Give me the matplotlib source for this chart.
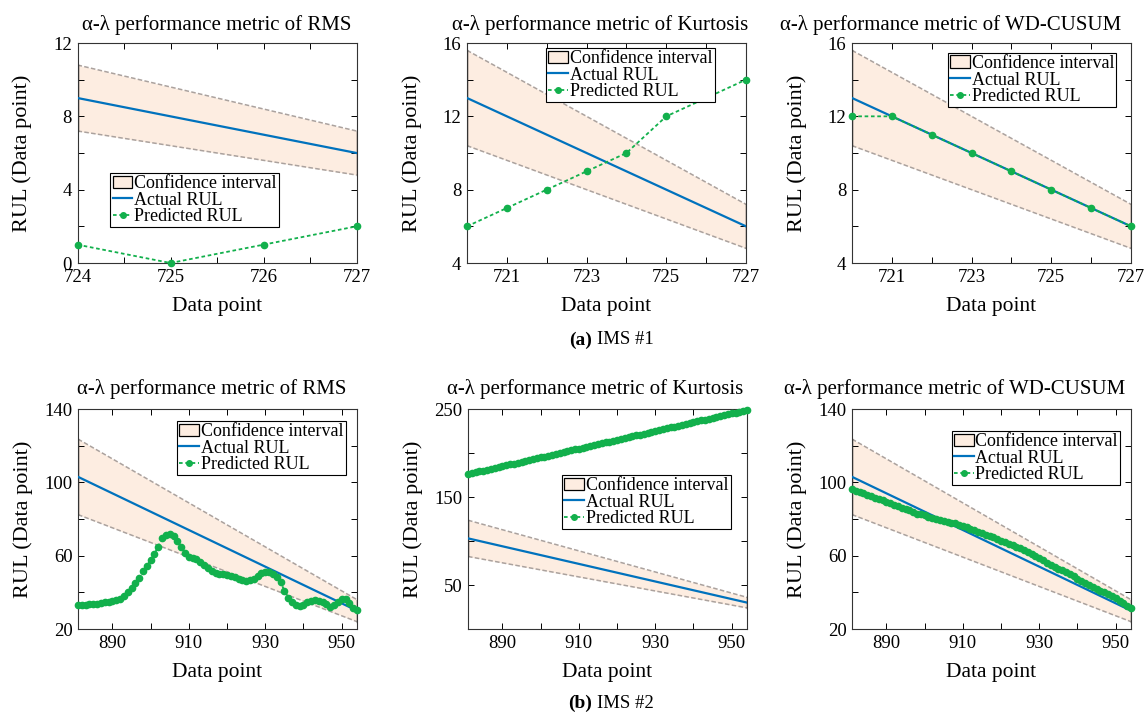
import matplotlib
matplotlib.use('Agg')
import matplotlib.pyplot as plt
from matplotlib.patches import Patch
from matplotlib.lines import Line2D

plt.rcParams['font.family'] = ['Liberation Serif', 'DejaVu Serif']

# ── Data ───────────────────────────────────────────────────────────────────
ALPHA = 0.2  # alpha-lambda confidence band (+/- 20 % of actual RUL)

# IMS #1
rms1_x = [724, 725, 726, 727]
rms1_actual = [9, 8, 7, 6]
rms1_pred = [1, 0, 1, 2]

ims1_x = [720, 721, 722, 723, 724, 725, 726, 727]
ims1_actual = [13, 12, 11, 10, 9, 8, 7, 6]
kurt1_pred = [6, 7, 8, 9, 10, 12, 13, 14]
wd1_pred = [12, 12, 11, 10, 9, 8, 7, 6]

# IMS #2
ims2_x = [881, 882, 883, 884, 885, 886, 887, 888, 889, 890,
          891, 892, 893, 894, 895, 896, 897, 898, 899, 900,
          901, 902, 903, 904, 905, 906, 907, 908, 909, 910,
          911, 912, 913, 914, 915, 916, 917, 918, 919, 920,
          921, 922, 923, 924, 925, 926, 927, 928, 929, 930,
          931, 932, 933, 934, 935, 936, 937, 938, 939, 940,
          941, 942, 943, 944, 945, 946, 947, 948, 949, 950,
          951, 952, 953, 954]
ims2_actual_x = [881, 954]
ims2_actual = [103, 30]

rms2_pred = [33.0, 33.0, 33.2, 33.5, 33.6, 33.8, 34.0, 34.5, 34.8, 35.2,
             35.8, 36.5, 38.0, 40.0, 42.5, 45.0, 48.0, 51.5, 54.5, 57.5,
             61.0, 65.0, 69.5, 71.5, 72.0, 70.5, 68.0, 65.0, 61.5, 59.5,
             58.8, 58.0, 56.5, 55.0, 53.5, 51.5, 50.5, 50.0, 49.8, 49.5,
             49.0, 48.5, 47.5, 46.5, 46.3, 46.5, 47.5, 49.0, 50.5, 51.0,
             51.0, 50.2, 48.5, 45.5, 41.0, 37.0, 35.0, 33.2, 32.8, 33.2,
             34.5, 35.5, 36.0, 35.5, 35.0, 33.5, 32.2, 33.0, 35.0, 36.5,
             36.5, 34.0, 31.5, 30.5]

kurt2_pred = [176, 177, 178, 179, 180, 181, 182, 183, 184, 185,
              186, 187, 188, 189, 190, 191, 192, 193, 194, 195,
              196, 197, 198, 199, 200, 201, 202, 203, 204, 205,
              206, 207, 208, 209, 210, 211, 212, 213, 214, 215,
              216, 217, 218, 219, 220, 221, 222, 223, 224, 225,
              226, 227, 228, 229, 230, 231, 232, 233, 234, 235,
              236, 237, 238, 239, 240, 241, 242, 243, 244, 245,
              246, 247, 248, 249]

wd2_pred = [96.5, 95.5, 95.0, 94.0, 93.2, 92.5, 91.5, 90.8, 90.5, 89.5,
            88.5, 87.8, 87.0, 86.2, 85.5, 84.8, 84.0, 83.0, 82.5, 82.0,
            81.0, 80.8, 80.2, 79.5, 79.0, 78.5, 78.0, 77.6, 77.0, 76.0,
            75.5, 74.8, 73.8, 73.0, 72.5, 71.5, 70.8, 70.0, 69.0, 68.0,
            67.5, 66.5, 65.8, 65.0, 64.0, 63.2, 62.0, 61.0, 60.0, 59.0,
            57.5, 56.0, 55.0, 54.0, 53.0, 52.0, 51.0, 50.0, 49.0, 47.5,
            46.0, 45.0, 44.0, 43.0, 42.0, 41.0, 40.0, 39.0, 38.0, 36.8,
            35.5, 34.0, 32.5, 31.5]

# ── Style ──────────────────────────────────────────────────────────────────
C_BAND = '#FDEDE1'
C_BAND_EDGE = '#ABA29E'
C_ACT = '#0072BD'
C_PRED = '#12B04C'
C_AX = '#333333'

W, H = 1145, 718
fig = plt.figure(figsize=(W / 100, H / 100), dpi=100)


def make_ax(left, top):
    return fig.add_axes([left / W, 1 - (top + 220) / H, 279 / W, 220 / H])


def panel(ax, title, title_xy, ax_x, actual, pred_x, pred, xlim, xticks, xlabels,
          ylim, yticks, ylabels, leg_xy, ms=4.5):
    lo = [a * (1 - ALPHA) for a in actual]
    hi = [a * (1 + ALPHA) for a in actual]
    ax.fill_between(ax_x, lo, hi, color=C_BAND, lw=0, zorder=1)
    ax.plot(ax_x, hi, color=C_BAND_EDGE, lw=1.1, ls=(0, (3, 1.5)), zorder=2)
    ax.plot(ax_x, lo, color=C_BAND_EDGE, lw=1.1, ls=(0, (3, 1.5)), zorder=2)
    for i in (0, -1):
        ax.plot([ax_x[i], ax_x[i]], [lo[i], hi[i]], color='#222222', lw=1.0,
                zorder=2)
    ax.plot(ax_x, actual, color=C_ACT, lw=1.6, zorder=3)
    ax.plot(pred_x, pred, color=C_PRED, lw=1.3, ls=(0, (2, 1.5)),
            marker='o', ms=ms, mec=C_PRED, mfc=C_PRED, zorder=4, clip_on=False)

    ax.set_xticks(xticks)
    ax.set_xticklabels(xlabels)
    ax.set_yticks(yticks)
    ax.set_yticklabels(ylabels)
    ax.set_xlim(xlim)
    ax.set_ylim(ylim)
    ax.tick_params(direction='in', length=4, width=0.7, top=True, right=True,
                   labelsize=13.5, pad=4, colors='k')
    for s in ax.spines.values():
        s.set_color(C_AX)
        s.set_linewidth(0.8)

    fig.text(title_xy[0] / W, 1 - title_xy[1] / H, title, fontsize=15,
             ha='center', va='center')
    ax.set_xlabel('Data point', fontsize=15.5, va='center')
    ax.set_ylabel('RUL (Data point)', fontsize=16, va='center')
    ax.xaxis.set_label_coords(0.5, -43 / 220)
    ax.yaxis.set_label_coords(-55 / 279, 0.5)

    handles = [
        Patch(facecolor=C_BAND, edgecolor='k', lw=0.9),
        Line2D([], [], color=C_ACT, lw=1.6),
        Line2D([], [], color=C_PRED, lw=1.3, ls=(0, (2, 1.5)), marker='o',
               ms=4, mec=C_PRED, mfc=C_PRED),
    ]
    leg = ax.legend(handles, ['Confidence interval', 'Actual RUL', 'Predicted RUL'],
                    loc='upper left', bbox_to_anchor=leg_xy, fontsize=13,
                    fancybox=False, framealpha=1, edgecolor='k',
                    borderpad=0.12, labelspacing=-0.03, handlelength=1.1,
                    handletextpad=0.1, borderaxespad=0)
    leg.get_frame().set_linewidth(0.8)


def blank(ticks, shown):
    return [str(t) if t in shown else '' for t in ticks]


# ── (a) IMS #1 ─────────────────────────────────────────────────────────────
t1 = 'α-λ performance metric of '
xt_a = [724, 724.5, 725, 725.5, 726, 726.5, 727]
yt_a = [0, 2, 4, 6, 8, 10, 12]
panel(make_ax(77.5, 43), t1 + 'RMS', (217, 25), rms1_x, rms1_actual, rms1_x, rms1_pred,
      (724, 727), xt_a, ['724', '', '725', '', '726', '', '727'],
      (0, 12), yt_a, blank(yt_a, [0, 4, 8, 12]), (0.118, 0.409))

xt_b = ims1_x
yt_b = [4, 6, 8, 10, 12, 14, 16]
panel(make_ax(467, 43), t1 + 'Kurtosis', (600, 25), ims1_x, ims1_actual, ims1_x, kurt1_pred,
      (720, 727), xt_b, blank(xt_b, [721, 723, 725, 727]),
      (4, 16), yt_b, blank(yt_b, [4, 8, 12, 16]), (0.284, 0.977))

panel(make_ax(852, 43), t1 + 'WD-CUSUM', (951, 25), ims1_x, ims1_actual, ims1_x, wd1_pred,
      (720, 727), xt_b, blank(xt_b, [721, 723, 725, 727]),
      (4, 16), yt_b, blank(yt_b, [4, 8, 12, 16]), (0.344, 0.955))

# ── (b) IMS #2 ─────────────────────────────────────────────────────────────
xt_c = [890, 900, 910, 920, 930, 940, 950]
xl_c = blank(xt_c, [890, 910, 930, 950])
yt_c = [20, 40, 60, 80, 100, 120, 140]
panel(make_ax(78, 409), t1 + 'RMS', (212, 389), ims2_actual_x, ims2_actual, ims2_x, rms2_pred,
      (881, 954), xt_c, xl_c, (20, 140), yt_c, blank(yt_c, [20, 60, 100, 140]),
      (0.355, 0.945))

yt_k = [0, 50, 100, 150, 200, 250]
panel(make_ax(468, 409), t1 + 'Kurtosis', (595, 389), ims2_actual_x, ims2_actual, ims2_x, kurt2_pred,
      (881, 954), xt_c, xl_c, (0, 250), yt_k, blank(yt_k, [50, 150, 250]),
      (0.337, 0.70))

panel(make_ax(852, 409), t1 + 'WD-CUSUM', (955, 389), ims2_actual_x, ims2_actual, ims2_x, wd2_pred,
      (881, 954), xt_c, xl_c, (20, 140), yt_c, blank(yt_c, [20, 60, 100, 140]),
      (0.357, 0.90))

# ── Sub-captions ──────────────────────────────────────────────────────────
for lab, name, ypx in [('(a)', 'IMS #1', 340), ('(b)', 'IMS #2', 703)]:
    fig.text(592 / W, 1 - ypx / H, lab, ha='right', va='center',
             fontsize=14, fontweight='bold')
    fig.text(597 / W, 1 - ypx / H, name, ha='left', va='center', fontsize=13.5)

fig.savefig('out.png', dpi=100)
